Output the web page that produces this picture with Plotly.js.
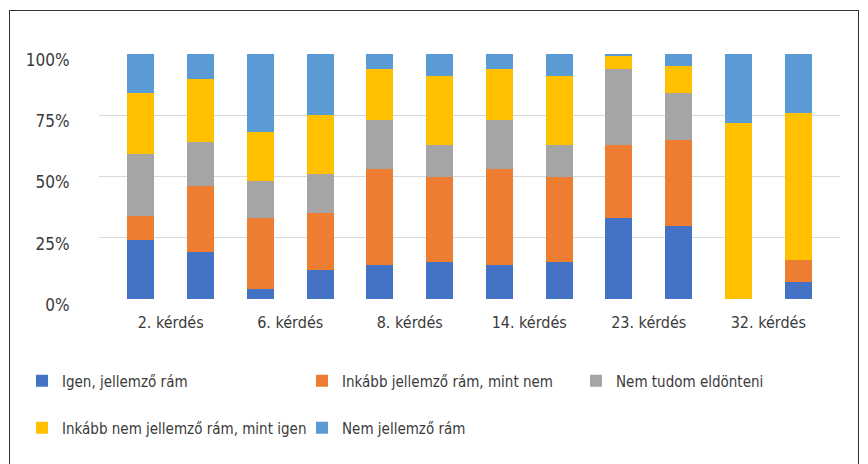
<!DOCTYPE html>
<html>
<head>
<meta charset="utf-8">
<script src="https://cdn.plot.ly/plotly-3.0.1.min.js"></script>
<style>
  html, body { margin: 0; padding: 0; background: #fff; }
  #wrap { position: relative; width: 868px; height: 464px; overflow: hidden; }
  #chart { width: 868px; height: 464px; }
  #chart text { font-stretch: condensed !important; }
  #frame { position: absolute; left: 9px; top: 10px; width: 848px; height: 470px;
           border: 1.5px solid #333; pointer-events: none; }
</style>
</head>
<body>
<div id="wrap"><div id="chart"></div><div id="frame"></div></div>
<script>
// Categories (each question has two bars)
const categories = ["2. kérdés", "6. kérdés", "8. kérdés", "14. kérdés", "23. kérdés", "32. kérdés"];
const seriesNames = ["Igen, jellemző rám", "Inkább jellemző rám, mint nem", "Nem tudom eldönteni",
                     "Inkább nem jellemző rám, mint igen", "Nem jellemző rám"];
// Values in %, two bars per category (12 bars)
const igen        = [24, 19,  4, 12, 14, 15, 14, 15, 33, 30,  0,  7];
const inkabbIgen  = [10, 27, 29, 23, 39, 35, 39, 35, 30, 35,  0,  9];
const nemTudom    = [25, 18, 15, 16, 20, 13, 20, 13, 31, 19,  0,  0];
const inkabbNem   = [25, 26, 20, 24, 21, 28, 21, 28,  5, 11, 72, 60];
const nem         = [16, 10, 32, 25,  6,  9,  6,  9,  1,  5, 28, 24];
const yTicks = [0, 25, 50, 75, 100];

const colors = ["#4472C4", "#ED7D31", "#A5A5A5", "#FFC000", "#5B9BD5"];
const allSeries = [igen, inkabbIgen, nemTudom, inkabbNem, nem];

const FONT = "'DejaVu Sans Condensed', 'DejaVu Sans', sans-serif";

const xIdx = igen.map((v, i) => i);
const legendIds = ["legend", "legend2", "legend3", "legend4", "legend5"];
const traces = allSeries.map((vals, s) => ({
  type: "bar",
  x: xIdx,
  y: vals,
  name: seriesNames[s],
  legend: legendIds[s],
  width: 0.45,
  marker: { color: colors[s], line: { width: 0 } },
  hoverinfo: "y+name"
}));

// legend grid placement (pixels in the 868x464 container)
const legendPos = [[22, 381], [302, 381], [576, 381], [22, 428], [302, 428]];
function legendAt(px, py) {
  return {
    orientation: "h",
    xref: "container", yref: "container",
    x: px / 868, y: 1 - py / 464, xanchor: "left", yanchor: "middle",
    itemwidth: 30,
    font: { family: FONT, size: 15, color: "#3a3a3a" },
    bgcolor: "rgba(0,0,0,0)"
  };
}

const layout = {
  width: 868, height: 464,
  margin: { l: 99, r: 28, t: 54, b: 165 },
  barmode: "stack",
  paper_bgcolor: "#fff",
  plot_bgcolor: "#fff",
  font: { family: FONT, color: "#3a3a3a", size: 16 },
  showlegend: true,
  xaxis: {
    range: [-0.7, 11.7],
    tickvals: categories.map((c, i) => 2 * i + 0.5),
    ticktext: categories,
    showgrid: false, zeroline: false, showline: false,
    ticks: "outside", ticklen: 9, tickcolor: "rgba(0,0,0,0)",
    tickfont: { family: FONT, size: 16, color: "#3a3a3a" }
  },
  yaxis: {
    range: [0, 100],
    tickvals: yTicks,
    ticktext: yTicks.map(v => v + "%"),
    showgrid: true, gridcolor: "#d9d9d9", gridwidth: 1,
    zeroline: false, showline: false,
    ticks: "outside", ticklen: 25, tickcolor: "rgba(0,0,0,0)",
    ticklabelshift: 6,
    tickfont: { family: FONT, size: 17, color: "#3a3a3a" }
  }
};
legendIds.forEach((id, i) => { layout[id] = legendAt(legendPos[i][0], legendPos[i][1]); });

Plotly.newPlot("chart", traces, layout, { displayModeBar: false, staticPlot: true });
</script>
</body>
</html>
